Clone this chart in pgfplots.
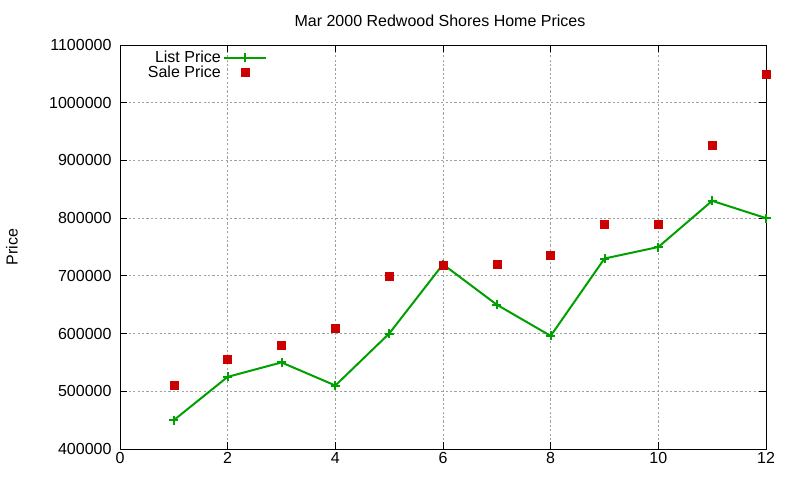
\documentclass[border=0pt]{standalone}
\usepackage{fontspec}
\setmainfont{Liberation Sans}
\usepackage{pgfplots}
\pgfplotsset{compat=1.18}
\definecolor{lgreen}{RGB}{0,160,0}
\definecolor{sred}{RGB}{204,0,0}
\definecolor{gridgray}{RGB}{160,160,160}
\pgfplotsset{
  listleg/.style={legend image code/.code={\draw[##1, line width=2pt] (5pt,0pt) -- (47pt,0pt); \draw[##1, only marks, line width=2pt] plot coordinates {(26pt,0pt)};}},
  saleleg/.style={legend image code/.code={\draw[##1, only marks] plot coordinates {(26pt,0pt)};}},
}
\begin{document}
\begin{tikzpicture}[x=1pt,y=1pt]
\useasboundingbox (0,0) rectangle (800,480);
\begin{axis}[
  at={(120pt,31pt)}, anchor=south west,
  scale only axis, width=646pt, height=404pt,
  xmin=0, xmax=12, ymin=400000, ymax=1100000,
  xtick={0,2,...,12},
  ytick={400000,500000,...,1100000},
  scaled y ticks=false,
  /pgf/number format/fixed,
  /pgf/number format/1000 sep={},
  /pgf/number format/assume math mode=true,
  tick align=inside, major tick length=7pt,
  tick style={black, line width=0.8pt},
  axis line style={black, line width=1pt},
  grid=major,
  major grid style={gridgray, dash pattern=on 2.2pt off 2.2pt, line width=1pt},
  font=\fontsize{16}{19}\selectfont,
  tick label style={font=\fontsize{16}{19}\selectfont},
  yticklabel style={xshift=-5pt},
  title={Mar 2000 Redwood Shores Home Prices},
  title style={at={(0.5,1)}, anchor=base, xshift=-3pt, yshift=13pt, font=\fontsize{16}{19}\selectfont},
  ylabel={Price},
  ylabel style={at={(axis description cs:-0.1672,0.5)}, anchor=center, font=\fontsize{16}{19}\selectfont},
  clip=false,
  legend plot pos=right,
  legend cell align=right,
  legend style={at={(axis description cs:0.2276,0.99)}, anchor=north east, draw=none, fill=none, inner sep=0pt,
    row sep=-2.5pt, font=\fontsize{16}{19}\selectfont},
]
\addplot[color=lgreen, line width=2pt, mark=+, mark size=4.5pt,
  mark options={line width=2pt}, listleg]
  coordinates {
  (1,450000) (2,525000) (3,550000) (4,510000) (5,600000) (6,720000)
  (7,650000) (8,596000) (9,730000) (10,750000) (11,830000) (12,800000)
};
\addlegendentry{List Price}
\addplot[only marks, mark=square*, color=sred, mark size=4pt, saleleg]
  coordinates {
  (1,510000) (2,555000) (3,580000) (4,610000) (5,700000) (6,719000)
  (7,720000) (8,735000) (9,790000) (10,790000) (11,927000) (12,1050000)
};
\addlegendentry{Sale Price}
\end{axis}
\end{tikzpicture}
\end{document}
